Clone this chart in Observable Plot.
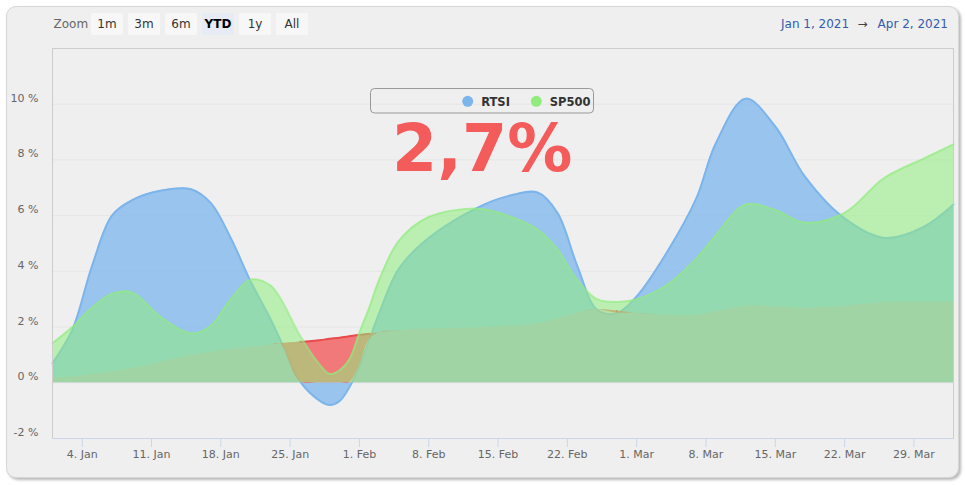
<!DOCTYPE html>
<html>
<head>
<meta charset="utf-8">
<script src="https://cdn.jsdelivr.net/npm/d3@7"></script>
<script src="https://cdn.jsdelivr.net/npm/@observablehq/plot@0.6"></script>
<style>
  html, body { margin: 0; padding: 0; background: #ffffff; }
  body { width: 966px; height: 485px; position: relative; overflow: hidden; font-family: "DejaVu Sans", sans-serif; }
  #card { position: absolute; left: 6px; top: 6px; width: 951px; height: 470px; background: #efefef;
          border: 1px solid #d6d6d6; border-radius: 10px; box-shadow: 2px 2px 3px rgba(0,0,0,0.28); }
  #chart { position: absolute; left: 0; top: 0; }
  #overlay { position: absolute; left: 0; top: 0; pointer-events: none; }
</style>
</head>
<body>
<div id="card"></div>
<div id="chart"></div>
<svg id="overlay" width="966" height="485" xmlns="http://www.w3.org/2000/svg"></svg>
<script>
// ---- data ----
const dates = ["2021-01-01","2021-01-03","2021-01-05","2021-01-07","2021-01-09","2021-01-12","2021-01-15","2021-01-17",
  "2021-01-19","2021-01-21","2021-01-23","2021-01-24","2021-01-26","2021-01-28","2021-01-29","2021-01-30","2021-01-31",
  "2021-02-01","2021-02-02","2021-02-03","2021-02-05","2021-02-08","2021-02-13","2021-02-16","2021-02-19","2021-02-21",
  "2021-02-23","2021-02-25","2021-02-27","2021-03-01","2021-03-04","2021-03-07","2021-03-09","2021-03-12","2021-03-15",
  "2021-03-18","2021-03-22","2021-03-26","2021-03-30","2021-04-02"];
const rtsi = [0.7, 1.9, 4.2, 6.0, 6.55, 6.9, 6.95, 6.45, 5.2, 3.65, 2.3, 1.55, 0.05, -0.65, -0.8, -0.65, -0.15, 0.6, 1.55, 2.5,
  4.1, 5.2, 6.3, 6.7, 6.83, 6.1, 4.2, 2.62, 2.5, 3.1, 4.65, 6.6, 8.6, 10.2, 9.2, 7.4, 5.9, 5.2, 5.6, 6.4];
const sp500 = [1.42, 2.0, 2.7, 3.2, 3.25, 2.35, 1.78, 2.05, 3.0, 3.7, 3.5, 3.05, 1.7, 0.65, 0.32, 0.45, 0.85, 1.8, 2.7, 3.7,
  5.1, 5.95, 6.25, 6.0, 5.5, 4.8, 3.7, 3.0, 2.9, 3.0, 3.5, 4.45, 5.3, 6.4, 6.2, 5.75, 6.1, 7.35, 8.05, 8.56];
const spread = [0.16, 0.22, 0.3, 0.4, 0.5, 0.75, 0.98, 1.1, 1.2, 1.28, 1.35, 1.4, 1.46, 1.53, 1.58, 1.62, 1.67, 1.72, 1.76, 1.8,
  1.88, 1.93, 1.98, 2.03, 2.12, 2.3, 2.5, 2.62, 2.58, 2.5, 2.42, 2.42, 2.55, 2.75, 2.73, 2.68, 2.75, 2.88, 2.9, 2.9];
const xTicks = ["2021-01-04","2021-01-11","2021-01-18","2021-01-25","2021-02-01","2021-02-08","2021-02-15","2021-02-22",
  "2021-03-01","2021-03-08","2021-03-15","2021-03-22","2021-03-29"];
const yTicks = [-2, 0, 2, 4, 6, 8, 10];
const xDomain = ["2021-01-01", "2021-04-02"];
const yDomain = [-2, 12];
const seriesNames = ["RTSI", "SP500"];
const seriesColors = ["#7cb5ec", "#90ed7d"];
const zoomButtons = ["1m", "3m", "6m", "YTD", "1y", "All"];
const selectedButton = "YTD";
const rangeFrom = "Jan 1, 2021", rangeTo = "Apr 2, 2021";
const bigLabel = "2,7%";

// ---- table built from the arrays ----
const data = dates.map((d, i) => ({
  date: new Date(d + "T00:00:00Z"),
  rtsi: rtsi[i],
  sp: sp500[i],
  spread: spread[i],
  redLow: Math.max(0, Math.min(rtsi[i], spread[i])),
  redLine: rtsi[i] < spread[i] ? spread[i] : NaN
}));
const curve = "catmull-rom";
const fmtX = d3.utcFormat("%-d. %b");

const chart = Plot.plot({
  width: 966, height: 485,
  marginLeft: 52, marginRight: 13, marginTop: 48, marginBottom: 47,
  style: { background: "transparent", fontFamily: "DejaVu Sans, sans-serif", fontSize: "11px", color: "#666" },
  x: { type: "utc", domain: xDomain.map(d => new Date(d + "T00:00:00Z")) },
  y: { domain: yDomain },
  marks: [
    Plot.ruleY(yTicks.filter(v => v > yDomain[0]), { stroke: "#e6e6e6" }),
    Plot.areaY(data, { x: "date", y1: 0, y2: "rtsi", curve, fill: seriesColors[0], fillOpacity: 0.75 }),
    Plot.lineY(data, { x: "date", y: "rtsi", curve, stroke: seriesColors[0], strokeWidth: 2 }),
    Plot.areaY(data, { x: "date", y1: 0, y2: "spread", curve, fill: "#e6a0aa", fillOpacity: 0.35 }),
    Plot.areaY(data, { x: "date", y1: "redLow", y2: "spread", curve, fill: "#f45b5b", fillOpacity: 0.75 }),
    Plot.lineY(data, { x: "date", y: "redLine", curve, stroke: "#e84a4a", strokeWidth: 2 }),
    Plot.areaY(data, { x: "date", y1: 0, y2: "sp", curve, fill: seriesColors[1], fillOpacity: 0.55 }),
    Plot.lineY(data, { x: "date", y: "sp", curve, stroke: seriesColors[1], strokeWidth: 2, strokeOpacity: 0.6 }),
    Plot.frame({ stroke: "#cccccc" }),
    Plot.ruleY([yDomain[0]], { stroke: "#ccd6eb" }),
    Plot.axisX({ ticks: xTicks.map(d => new Date(d + "T00:00:00Z")), tickFormat: fmtX, tickSize: 9, tickPadding: 3,
                 stroke: "#ccd6eb", fill: "#666", fontSize: 11 }),
    Plot.axisY({ ticks: yTicks, tickFormat: d => `${d} %`, tickSize: 0, tickPadding: 14, dy: -6, fill: "#666", fontSize: 11 })
  ]
});
document.getElementById("chart").appendChild(chart);

// ---- decorations: range selector, legend, big label ----
const ov = d3.select("#overlay");
ov.append("text").attr("x", 53.5).attr("y", 28).attr("font-size", 12).attr("fill", "#666")
  .attr("font-family", "DejaVu Sans").text("Zoom");
zoomButtons.forEach((b, i) => {
  const x = 91 + i * 37, sel = b === selectedButton;
  ov.append("rect").attr("x", x).attr("y", 13).attr("width", 32).attr("height", 22).attr("rx", 2)
    .attr("fill", sel ? "#e6ebf5" : "#f7f7f7");
  ov.append("text").attr("x", x + 16).attr("y", 28).attr("text-anchor", "middle").attr("font-size", 12)
    .attr("font-family", "DejaVu Sans").attr("font-weight", sel ? "bold" : "normal")
    .attr("fill", sel ? "#000" : "#333").text(b);
});
ov.append("text").attr("x", 781).attr("y", 27.5).attr("font-size", 12).attr("fill", "#335cad")
  .attr("font-family", "DejaVu Sans").text(rangeFrom);
ov.append("text").attr("x", 862.5).attr("y", 27.5).attr("text-anchor", "middle").attr("font-size", 12).attr("fill", "#444")
  .attr("font-family", "DejaVu Sans").text("→");
ov.append("text").attr("x", 948).attr("y", 27.5).attr("text-anchor", "end").attr("font-size", 12).attr("fill", "#335cad")
  .attr("font-family", "DejaVu Sans").text(rangeTo);

ov.append("rect").attr("x", 370.5).attr("y", 88.5).attr("width", 223).attr("height", 24.5).attr("rx", 4)
  .attr("fill", "none").attr("stroke", "#999");
const legendX = [467.7, 536.3];
seriesNames.forEach((n, i) => {
  ov.append("circle").attr("cx", legendX[i]).attr("cy", 101.3).attr("r", 5.5).attr("fill", seriesColors[i]);
  ov.append("text").attr("x", legendX[i] + 13.5).attr("y", 105.6).attr("font-size", 11.5).attr("font-weight", "bold")
    .attr("font-family", "DejaVu Sans").attr("fill", "#333").text(n);
});
ov.append("text").attr("x", 392).attr("y", 171).attr("font-size", 65).attr("font-weight", "bold")
  .attr("font-family", "DejaVu Sans").attr("fill", "#f45b5b").text(bigLabel);
</script>
</body>
</html>
